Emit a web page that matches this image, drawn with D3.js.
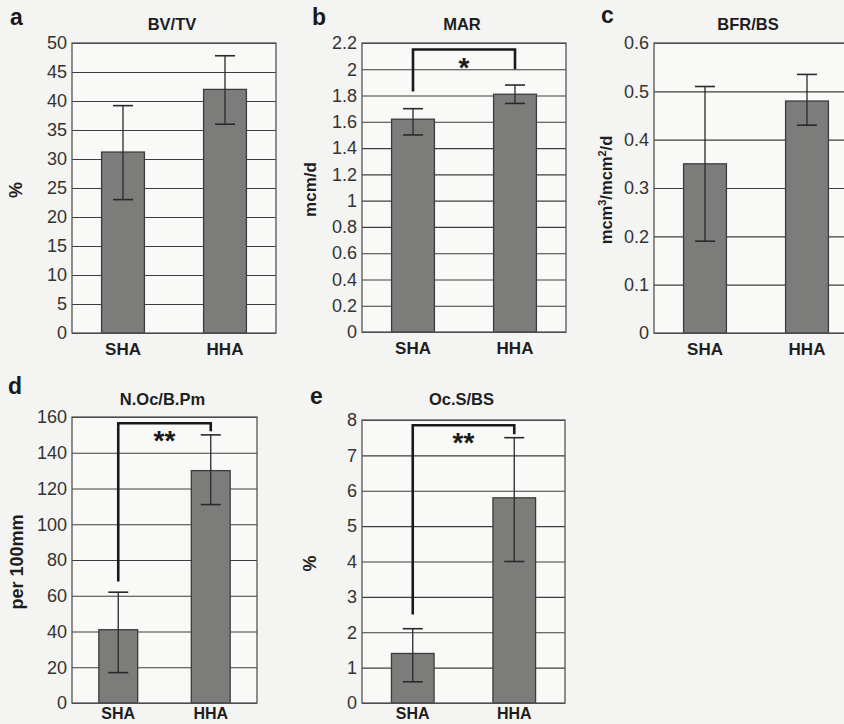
<!DOCTYPE html>
<html>
<head>
<meta charset="utf-8">
<script src="https://cdn.jsdelivr.net/npm/d3@7"></script>
<style>
  html, body { margin: 0; padding: 0; background: #f5f5f3; }
  svg { display: block; }
  text { font-family: "Liberation Sans", Arial, sans-serif; }
</style>
</head>
<body>
<script>
// ---------- DATA ----------
const categories = ["SHA", "HHA"];

const bvtvMean = [31.2, 42.0];
const bvtvErrLow = [23.0, 36.0];
const bvtvErrHigh = [39.2, 47.8];
const bvtvTicks = [0, 5, 10, 15, 20, 25, 30, 35, 40, 45, 50];

const marMean = [1.62, 1.81];
const marErrLow = [1.50, 1.74];
const marErrHigh = [1.70, 1.88];
const marTicks = [0, 0.2, 0.4, 0.6, 0.8, 1, 1.2, 1.4, 1.6, 1.8, 2, 2.2];
const marSig = [1.83, 2.15, 2.0]; // left end, bracket top, right end
const marSigLabel = "*";

const bfrMean = [0.35, 0.48];
const bfrErrLow = [0.19, 0.43];
const bfrErrHigh = [0.51, 0.535];
const bfrTicks = [0, 0.1, 0.2, 0.3, 0.4, 0.5, 0.6];

const nocMean = [41, 130];
const nocErrLow = [17, 111];
const nocErrHigh = [62, 150];
const nocTicks = [0, 20, 40, 60, 80, 100, 120, 140, 160];
const nocSig = [68, 156.5, 152];
const nocSigLabel = "**";

const ocsMean = [1.4, 5.8];
const ocsErrLow = [0.6, 4.0];
const ocsErrHigh = [2.1, 7.5];
const ocsTicks = [0, 1, 2, 3, 4, 5, 6, 7, 8];
const ocsSig = [2.5, 7.85, 7.6];
const ocsSigLabel = "**";

// ---------- LAYOUT ----------
const W = 844, H = 724;
const svg = d3.select("body").append("svg").attr("width", W).attr("height", H);
svg.append("rect").attr("width", W).attr("height", H).attr("fill", "#f4f4f2");

const panels = [
  { letter: "a", title: "BV/TV", ylab: "%", mean: bvtvMean, lo: bvtvErrLow, hi: bvtvErrHigh, ticks: bvtvTicks,
    x0: 72, x1: 276, y0: 43, y1: 333, lx: 10, ly: 25, tY: 30, ylx: 22, yls: 18, catY: 22, sig: null },
  { letter: "b", title: "MAR", ylab: "mcm/d", mean: marMean, lo: marErrLow, hi: marErrHigh, ticks: marTicks,
    x0: 362, x1: 566, y0: 43, y1: 332, lx: 312, ly: 25, tY: 30, ylx: 316, yls: 17, catY: 22, sig: marSig, sigLabel: marSigLabel },
  { letter: "c", title: "BFR/BS", ylab: "c", mean: bfrMean, lo: bfrErrLow, hi: bfrErrHigh, ticks: bfrTicks,
    x0: 654, x1: 858, y0: 43, y1: 333, lx: 601, ly: 23, tY: 30, ylx: 612, yls: 16.5, catY: 22, sig: null },
  { letter: "d", title: "N.Oc/B.Pm", ylab: "per 100mm", mean: nocMean, lo: nocErrLow, hi: nocErrHigh, ticks: nocTicks,
    x0: 72, x1: 257, y0: 417, y1: 703, lx: 8, ly: 394, tY: 405, ylx: 23, yls: 18, catY: 16, sig: nocSig, sigLabel: nocSigLabel },
  { letter: "e", title: "Oc.S/BS", ylab: "%", mean: ocsMean, lo: ocsErrLow, hi: ocsErrHigh, ticks: ocsTicks,
    x0: 362, x1: 565, y0: 420, y1: 703, lx: 310, ly: 404, tY: 405, ylx: 316, yls: 18, catY: 16, sig: ocsSig, sigLabel: ocsSigLabel }
];

panels.forEach(p => {
  const g = svg.append("g");
  const x = d3.scaleBand().domain(categories).range([p.x0, p.x1]).paddingInner(0.58).paddingOuter(0.29);
  const y = d3.scaleLinear().domain([0, d3.max(p.ticks)]).range([p.y1, p.y0]);

  // plot background
  g.append("rect").attr("x", p.x0).attr("y", p.y0).attr("width", p.x1 - p.x0).attr("height", p.y1 - p.y0)
    .attr("fill", "#f9f9f7");

  // gridlines via axis
  g.append("g").attr("transform", `translate(${p.x0},0)`)
    .call(d3.axisRight(y).tickValues(p.ticks).tickSize(p.x1 - p.x0).tickFormat(""))
    .call(s => s.select(".domain").remove())
    .call(s => s.selectAll("line").attr("stroke", "#3e3e3e").attr("stroke-width", 1.1));

  // y axis tick labels
  g.append("g").attr("transform", `translate(${p.x0},0)`)
    .call(d3.axisLeft(y).tickValues(p.ticks).tickSize(0).tickPadding(5).tickFormat(d => String(d)))
    .call(s => s.select(".domain").remove())
    .call(s => s.selectAll("text").attr("font-size", 18).attr("fill", "#333")
      .attr("font-family", "'Liberation Sans', Arial, sans-serif"));

  // bars
  g.selectAll("rect.bar").data(categories).join("rect").attr("class", "bar")
    .attr("x", d => x(d)).attr("width", x.bandwidth())
    .attr("y", (d, i) => y(p.mean[i])).attr("height", (d, i) => y(0) - y(p.mean[i]))
    .attr("fill", "#7c7c7b").attr("stroke", "#3c3c3c").attr("stroke-width", 1.3);

  // error bars
  const cap = 10;
  categories.forEach((c, i) => {
    const cx = x(c) + x.bandwidth() / 2;
    g.append("line").attr("x1", cx).attr("x2", cx).attr("y1", y(p.lo[i])).attr("y2", y(p.hi[i]))
      .attr("stroke", "#2a2a2a").attr("stroke-width", 1.3);
    [p.lo[i], p.hi[i]].forEach(v => {
      g.append("line").attr("x1", cx - cap).attr("x2", cx + cap).attr("y1", y(v)).attr("y2", y(v))
        .attr("stroke", "#2a2a2a").attr("stroke-width", 1.6);
    });
  });

  // frame
  g.append("rect").attr("x", p.x0).attr("y", p.y0).attr("width", p.x1 - p.x0).attr("height", p.y1 - p.y0)
    .attr("fill", "none").attr("stroke", "#555").attr("stroke-width", 1.3);

  // category labels
  g.append("g").attr("transform", `translate(0,${p.y1})`)
    .call(d3.axisBottom(x).tickSize(0).tickPadding(0))
    .call(s => s.select(".domain").remove())
    .call(s => s.selectAll("text").attr("dy", null).attr("y", p.catY).attr("font-size", p.catY < 20 ? 16 : 17)
      .attr("font-weight", "bold").attr("fill", "#1e1e1e")
      .attr("font-family", "'Liberation Sans', Arial, sans-serif"));

  // title
  g.append("text").attr("x", (p.x0 + Math.min(p.x1, 858)) / 2 + (p.letter === "c" ? -6 : 0) - 2)
    .attr("y", p.tY).attr("text-anchor", "middle")
    .attr("font-size", 16.5).attr("font-weight", "bold").attr("fill", "#1e1e1e").text(p.title);

  // panel letter
  g.append("text").attr("x", p.lx).attr("y", p.ly).attr("font-size", 23).attr("font-weight", "bold")
    .attr("fill", "#1a1a1a").text(p.letter);

  // y label
  const cy = (p.y0 + p.y1) / 2 + 2;
  const yl = g.append("text").attr("transform", `translate(${p.ylx},${cy}) rotate(-90)`)
    .attr("text-anchor", "middle").attr("font-size", p.yls).attr("font-weight", "bold").attr("fill", "#1e1e1e");
  if (p.letter === "c") {
    yl.append("tspan").text("mcm");
    yl.append("tspan").attr("baseline-shift", "super").attr("font-size", 11).text("3");
    yl.append("tspan").text("/mcm");
    yl.append("tspan").attr("baseline-shift", "super").attr("font-size", 11).text("2");
    yl.append("tspan").text("/d");
  } else {
    yl.text(p.ylab);
  }

  // significance bracket
  if (p.sig) {
    const xa = x(categories[0]) + x.bandwidth() / 2;
    const xb = x(categories[1]) + x.bandwidth() / 2;
    g.append("path")
      .attr("d", `M${xa},${y(p.sig[0])}V${y(p.sig[1])}H${xb}V${y(p.sig[2])}`)
      .attr("fill", "none").attr("stroke", "#1a1a1a").attr("stroke-width", 2.6);
    g.append("text").attr("x", (xa + xb) / 2).attr("y", y(p.sig[1]) + 27)
      .attr("text-anchor", "middle").attr("font-size", 28).attr("font-weight", "bold")
      .attr("fill", "#1a1a1a").text(p.sigLabel);
  }
});
</script>
</body>
</html>
